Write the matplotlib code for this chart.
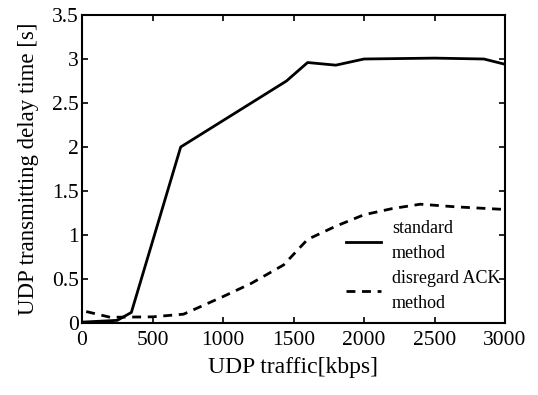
import matplotlib
matplotlib.use("Agg")
import matplotlib.pyplot as plt

std_x = [0, 250, 350, 700, 1450, 1600, 1800, 2000, 2500, 2850, 3000]
std_y = [0.01, 0.03, 0.12, 2.0, 2.75, 2.96, 2.93, 3.0, 3.01, 3.0, 2.94]
ack_x = [30, 200, 500, 720, 1000, 1200, 1430, 1600, 1800, 2000, 2200, 2400, 2650, 3000]
ack_y = [0.13, 0.065, 0.07, 0.1, 0.3, 0.45, 0.66, 0.95, 1.1, 1.23, 1.3, 1.35, 1.32, 1.29]

x_ticks = [0, 500, 1000, 1500, 2000, 2500, 3000]
y_ticks = [0, 0.5, 1, 1.5, 2, 2.5, 3, 3.5]
y_tick_labels = ["0", "0.5", "1", "1.5", "2", "2.5", "3", "3.5"]

plt.rcParams['font.family'] = ['Liberation Serif', 'DejaVu Serif']
fig = plt.figure(figsize=(5.38, 3.95), dpi=100)
ax = fig.add_axes([82/538, 1-323/395, (505-82)/538, (323-15)/395])

ax.plot(std_x, std_y, color='black', lw=2.0, label='standard\nmethod')
ax.plot(ack_x, ack_y, color='black', lw=2.0, ls=(0, (3.2, 2.4)), label='disregard ACK\nmethod')

ax.set_xlim(0, 3000)
ax.set_ylim(0, 3.5)
ax.set_xticks(x_ticks)
ax.set_yticks(y_ticks)
ax.set_yticklabels(y_tick_labels)
ax.tick_params(direction='in', top=True, right=True, labelsize=15.5, length=4, width=1.2)
ax.tick_params(axis='x', pad=5.5)
ax.tick_params(axis='y', pad=2.5)
for s in ax.spines.values():
    s.set_linewidth(1.5)
ax.set_xlabel('UDP traffic[kbps]', fontsize=17, labelpad=5)
ax.set_ylabel('UDP transmitting delay time [s]', fontsize=16.5, labelpad=9)

leg = ax.legend(loc='lower right', frameon=False, fontsize=13, handlelength=1.95,
                handletextpad=0.6, borderaxespad=0.2, labelspacing=0.45,
                bbox_to_anchor=(1.015, 0.0))
for t in leg.get_texts():
    t.set_linespacing(1.6)

fig.savefig('out.png', dpi=100)
